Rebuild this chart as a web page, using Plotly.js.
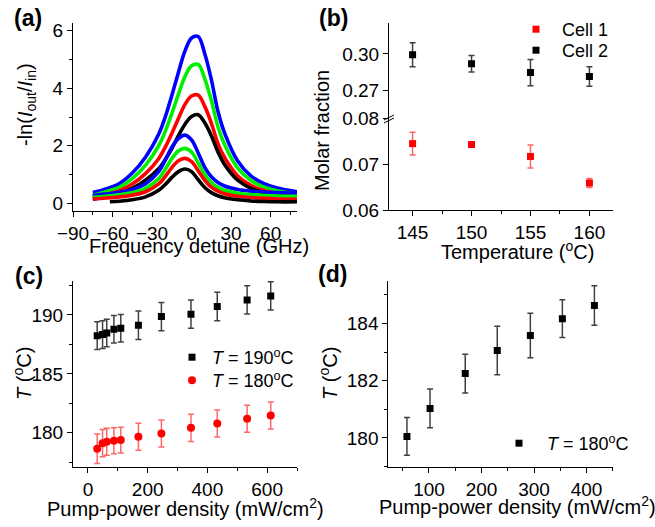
<!DOCTYPE html>
<html>
<head>
<meta charset="utf-8">
<script src="https://cdn.plot.ly/plotly-3.0.1.min.js"></script>
<style>html,body{margin:0;padding:0;background:#fff}#chart{width:655px;height:527px}</style>
</head>
<body>
<div id="chart"></div>
<script>
// ---------- Panel (a): absorption spectra ----------
const detune = [-75,-65,-55,-45,-35,-25,-20,-15,-10,-5,0,5,10,15,20,25,35,45,55,65,80];
const upperBlue  = [0.37,0.50,0.68,1.05,1.60,2.40,3.00,3.75,4.55,5.30,5.75,5.80,5.20,4.30,3.20,2.45,1.47,0.95,0.68,0.53,0.40];
const upperGreen = [0.28,0.40,0.55,0.86,1.32,2.00,2.50,3.12,3.79,4.41,4.78,4.83,4.33,3.58,2.66,2.04,1.22,0.79,0.56,0.43,0.32];
const upperRed   = [0.22,0.31,0.43,0.67,1.03,1.55,1.95,2.43,2.95,3.44,3.73,3.76,3.37,2.79,2.07,1.59,0.95,0.62,0.44,0.34,0.25];
const upperBlack = [0.14,0.22,0.32,0.52,0.80,1.20,1.52,1.90,2.35,2.75,3.02,3.08,2.80,2.35,1.78,1.35,0.80,0.52,0.37,0.28,0.20];
const lowerBlue  = [0.27,0.32,0.38,0.48,0.68,1.10,1.50,1.95,2.25,2.37,2.20,1.75,1.25,0.92,0.72,0.60,0.48,0.42,0.39,0.37,0.35];
const lowerGreen = [0.20,0.24,0.29,0.37,0.52,0.85,1.18,1.55,1.82,1.91,1.78,1.40,1.00,0.72,0.55,0.45,0.35,0.30,0.27,0.25,0.24];
const lowerRed   = [0.15,0.18,0.22,0.28,0.40,0.67,0.93,1.24,1.48,1.56,1.45,1.13,0.80,0.56,0.42,0.33,0.24,0.20,0.17,0.15,0.14];
const detuneLowBlack = [-62,-55,-45,-35,-25,-20,-15,-10,-5,0,5,10,15,20,25,35,45,55,65,80];
const lowerBlack = [0.05,0.07,0.12,0.22,0.45,0.65,0.90,1.10,1.19,1.10,0.82,0.55,0.37,0.26,0.19,0.12,0.08,0.06,0.05,0.05];

// ---------- Panel (b): molar fraction ----------
const tempB = [145,150,155,160];
const cell1 = [0.0745,0.0743,0.0717,0.0659];
const cell1Err = [0.0025,0.0003,0.0025,0.0010];
const cell2 = [0.2994,0.2919,0.2846,0.2814];
const cell2Err = [0.0099,0.0068,0.0108,0.0081];

// ---------- Panel (c) ----------
const powerC = [31,49,63,87,110,169,246,345,433,533,612];
const t190 = [188.24,188.33,188.47,188.78,188.87,189.12,189.86,190.06,190.71,191.27,191.61];
const t190Err = [1.17,1.17,1.17,1.17,1.17,1.2,1.2,1.2,1.2,1.2,1.2];
const t180 = [178.64,179.12,179.24,179.32,179.38,179.66,179.94,180.42,180.79,181.19,181.47];
const t180Err = [1.25,1.15,1.15,1.1,1.1,1.15,1.15,1.15,1.15,1.15,1.15];

// ---------- Panel (d) ----------
const powerD = [58,102,169,230,293,354,415];
const tD = [180.05,181.03,182.25,183.06,183.58,184.17,184.63];
const tDErr = [0.66,0.68,0.68,0.85,0.78,0.66,0.69];

const FONT = 'Liberation Sans, Arial, sans-serif';
const BLUE='#0000ff', GREEN='#00ee00', RED='#ff0000', BLACK='#000000';

function curve(x,y,c){
  return {x:x,y:y,xaxis:'x',yaxis:'y',mode:'lines',type:'scatter',
    line:{color:c,width:3.6,shape:'spline',smoothing:1},showlegend:false,hoverinfo:'skip'};
}
const traces = [
  curve(detune,upperBlue,BLUE), curve(detune,upperGreen,GREEN),
  curve(detune,upperRed,RED), curve(detune,upperBlack,BLACK),
  curve(detune,lowerBlue,BLUE), curve(detune,lowerGreen,GREEN),
  curve(detune,lowerRed,RED), curve(detuneLowBlack,lowerBlack,BLACK),
  {x:tempB,y:cell1,xaxis:'x2',yaxis:'y2',mode:'markers',type:'scatter',name:'Cell 1',legend:'legend',
   marker:{symbol:'square',size:7,color:RED},
   error_y:{type:'data',array:cell1Err,visible:true,color:'rgba(255,0,0,0.6)',thickness:1.5,width:3}},
  {x:tempB,y:cell2,xaxis:'x2',yaxis:'y3',mode:'markers',type:'scatter',name:'Cell 2',legend:'legend2',
   marker:{symbol:'square',size:7,color:BLACK},
   error_y:{type:'data',array:cell2Err,visible:true,color:'rgba(0,0,0,0.75)',thickness:1.5,width:3}},
  {x:powerC,y:t190,xaxis:'x3',yaxis:'y4',mode:'markers',type:'scatter',name:'<i>T</i> = 190<sup>o</sup>C',legend:'legend3',
   marker:{symbol:'square',size:7,color:BLACK},
   error_y:{type:'data',array:t190Err,visible:true,color:'rgba(0,0,0,0.75)',thickness:1.5,width:3}},
  {x:powerC,y:t180,xaxis:'x3',yaxis:'y4',mode:'markers',type:'scatter',name:'<i>T</i> = 180<sup>o</sup>C',legend:'legend4',
   marker:{symbol:'circle',size:8,color:RED},
   error_y:{type:'data',array:t180Err,visible:true,color:'rgba(255,0,0,0.6)',thickness:1.5,width:3}},
  {x:powerD,y:tD,xaxis:'x4',yaxis:'y5',mode:'markers',type:'scatter',name:'<i>T</i> = 180<sup>o</sup>C',legend:'legend5',
   marker:{symbol:'square',size:7,color:BLACK},
   error_y:{type:'data',array:tDErr,visible:true,color:'rgba(0,0,0,0.75)',thickness:1.5,width:3}}
];

const W=655,H=527;
const px = v=>v/W, py = v=>1-v/H;

function ax(domain, range, dtick, minorDtick, extra){
  const a = {domain:domain, range:range, dtick:dtick, showline:true, linecolor:'#000', linewidth:1,
    ticks:'outside', ticklen:5, tickwidth:1, tickcolor:'#000', showgrid:false, zeroline:false,
    tickfont:{family:FONT,size:19,color:'#000'}, fixedrange:true};
  if(minorDtick) a.minor = {dtick:minorDtick, ticks:'outside', ticklen:3, tickwidth:1, tickcolor:'#000', showgrid:false};
  return Object.assign(a, extra||{});
}

const legFont = {family:FONT,size:18,color:'#000'};
function leg(x,y,iw){
  return {x:px(x),y:py(y),xanchor:'left',yanchor:'top',bgcolor:'rgba(0,0,0,0)',font:legFont,itemwidth:iw||30};
}
const layout = {
  width:W, height:H, margin:{l:0,r:0,t:0,b:0}, paper_bgcolor:'#fff', plot_bgcolor:'rgba(0,0,0,0)',
  font:{family:FONT,color:'#000'},
  xaxis: ax([px(73),px(297)],[-90,80],30,15,{anchor:'y',tick0:0,tickformat:'d'}),
  yaxis: ax([py(211),py(23.3)],[-0.27,6.26],2,1,{anchor:'x',tick0:0}),
  xaxis2: ax([px(389),px(613)],[143,162],5,2.5,{anchor:'y2',tick0:145}),
  yaxis2: ax([py(210),py(118)],[0.06,0.0801],0.01,null,{anchor:'x2',tick0:0.06,tickformat:'.2f'}),
  yaxis3: ax([py(118),py(23.3)],[0.2471,0.3253],0.03,null,{anchor:'x2',tick0:0.27,tickformat:'.2f'}),
  xaxis3: ax([px(73),px(297)],[-50,700],200,100,{anchor:'y4',tick0:0}),
  yaxis4: ax([py(467),py(280.7)],[177.1,192.9],5,2.5,{anchor:'x3',tick0:180}),
  xaxis4: ax([px(388.3),px(613.3)],[22.5,451],100,50,{anchor:'y5',tick0:0}),
  yaxis5: ax([py(467.3),py(280.7)],[178.97,185.5],2,1,{anchor:'x4',tick0:180}),
  legend: leg(510,11,42),
  legend2: leg(510,32,42),
  legend3: leg(172,339,30),
  legend4: leg(172,362,30),
  legend5: leg(491,425,46),
  annotations:[
    {text:'<b>(a)</b>',x:px(28),y:py(18)},
    {text:'<b>(b)</b>',x:px(333),y:py(18)},
    {text:'<b>(c)</b>',x:px(29),y:py(276)},
    {text:'<b>(d)</b>',x:px(332),y:py(274)},
    {text:'Frequency detune (GHz)',x:px(199),y:py(246),size:20},
    {text:'-ln(<i>I</i><sub>out</sub>/<i>I</i><sub>in</sub>)',x:px(27),y:py(105),size:20,textangle:-90},
    {text:'Temperature (<sup>o</sup>C)',x:px(517),y:py(250),size:20},
    {text:'Molar fraction',x:px(322),y:py(131),size:20,textangle:-90},
    {text:'Pump-power density (mW/cm<sup>2</sup>)',x:px(185),y:py(507),size:20},
    {text:'<i>T</i> (<sup>o</sup>C)',x:px(22),y:py(374),size:20,textangle:-90},
    {text:'Pump-power density (mW/cm<sup>2</sup>)',x:px(517),y:py(505),size:20},
    {text:'<i>T</i> (<sup>o</sup>C)',x:px(328),y:py(374),size:20,textangle:-90}
  ].map(a=>({text:a.text,x:a.x,y:a.y,xref:'paper',yref:'paper',showarrow:false,
     xanchor:'center',yanchor:'middle',textangle:a.textangle||0,
     font:{family:FONT,size:a.size||23,color:'#000'}})),
  shapes:[
    {type:'line',xref:'paper',yref:'paper',x0:px(384),y0:py(120),x1:px(394),y1:py(115),line:{color:'#000',width:1}},
    {type:'line',xref:'paper',yref:'paper',x0:px(384),y0:py(123),x1:px(394),y1:py(118),line:{color:'#000',width:1}}
  ]
};

Plotly.newPlot('chart', traces, layout, {displayModeBar:false, staticPlot:true});
</script>
</body>
</html>
